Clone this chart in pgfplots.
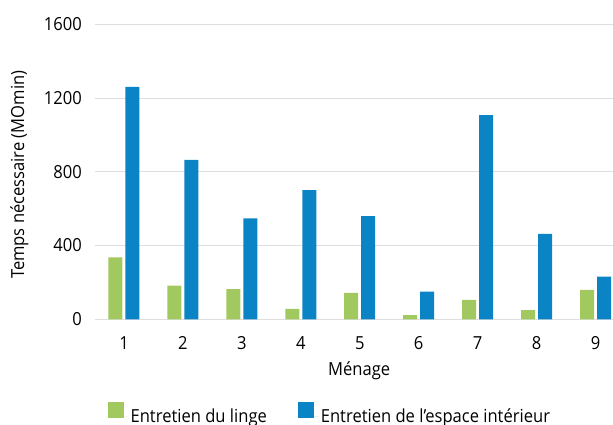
\documentclass[border=0pt]{standalone}
\usepackage{fontspec}
\setmainfont{Open Sans}[FakeStretch=0.92]
\usepackage{pgfplots}
\pgfplotsset{compat=1.18}
\definecolor{cgreen}{RGB}{162,201,95}
\definecolor{cblue}{RGB}{11,132,198}
\definecolor{cgrid}{RGB}{222,222,222}
\begin{document}
\fontsize{18bp}{21bp}\selectfont
\begin{tikzpicture}
\useasboundingbox (0,0) rectangle (613bp,425bp);
\begin{axis}[
  at={(95bp,105.7bp)}, anchor=south west,
  scale only axis, width=518bp, height=295bp,
  ymin=0, ymax=1600, xmin=0.508, xmax=9.297,
  ytick={0,400,800,1200,1600},
  xtick={1,2,3,4,5,6,7,8,9},
  axis line style={draw=none},
  major tick length=0pt,
  ymajorgrids, grid style={cgrid, line width=1bp},
  ybar=3bp, bar width=14bp,
  /pgf/number format/assume math mode=true,
  /pgf/number format/set thousands separator={},
  tick label style={font=\fontsize{18bp}{21bp}\selectfont},
  yticklabel style={anchor=east, xshift=-7bp},
  xticklabel style={anchor=north, yshift=-11bp},
  label style={font=\fontsize{18bp}{21bp}\selectfont},
  ylabel={Temps nécessaire (MOmin)},
  ylabel style={at={(axis description cs:-0.146,0.49)}, anchor=center},
  xlabel={Ménage},
  xlabel style={at={(axis description cs:0.51,-0.175)}, anchor=center},
  legend style={at={(axis description cs:0.024,-0.322)}, anchor=west,
    draw=none, fill=none, inner sep=0pt,
    font=\fontsize{18bp}{21bp}\selectfont,
    /tikz/every even column/.append style={column sep=29bp}},
  legend columns=2,
]
\addplot[fill=cgreen, draw=none,
  legend image code/.code={\fill[cgreen] (0bp,-1bp) rectangle (16bp,15bp); \path (0bp,0bp) -- (21bp,0bp);}]
  coordinates {(1,336) (2,182) (3,163) (4,56) (5,143) (6,22) (7,105) (8,50) (9,159)};
\addlegendentry{Entretien du linge}
\addplot[fill=cblue, draw=none,
  legend image code/.code={\fill[cblue] (0bp,-1bp) rectangle (16bp,15bp); \path (0bp,0bp) -- (21bp,0bp);}]
  coordinates {(1,1260) (2,864) (3,548) (4,701) (5,560) (6,150) (7,1108) (8,463) (9,231)};
\addlegendentry{Entretien de l’espace intérieur}
\end{axis}
\end{tikzpicture}
\end{document}
